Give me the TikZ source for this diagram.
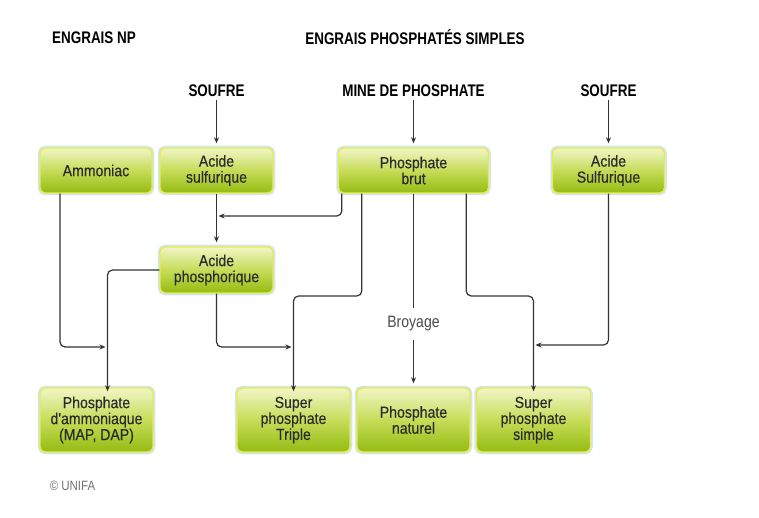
\documentclass[tikz,border=0pt]{standalone}
\usepackage{fontspec}
\setmainfont{Liberation Sans}[FakeStretch=0.85]
\newfontfamily\hfont{Liberation Sans}[FakeStretch=0.80]
\newfontfamily\bxfont{Liberation Sans}[FakeStretch=0.88, FakeBold=0.35]
\usetikzlibrary{arrows.meta}
\definecolor{boxtop}{HTML}{F0F6C6}
\definecolor{boxmid}{HTML}{C6DC58}
\definecolor{boxbot}{HTML}{94BC12}
\definecolor{boxline}{HTML}{EDEA48}
\definecolor{glow}{HTML}{CFE6F5}
\definecolor{ink}{HTML}{2B2B2B}
\definecolor{wire}{HTML}{333333}
\tikzset{
  fbox/.style={rounded corners=5pt, top color=boxtop, bottom color=boxbot, middle color=boxmid,
    draw=boxline, line width=1.4pt, preaction={draw=glow, line width=4.5pt},
    align=center, inner sep=0pt, text=ink, font=\bxfont\fontsize{16}{16}\selectfont},
  head/.style={font=\hfont\bfseries\fontsize{16.8}{16}\selectfont, text=black, inner sep=0pt},
  src/.style={font=\hfont\bfseries\fontsize{16.8}{16}\selectfont, text=black, inner sep=0pt, minimum height=18pt},
  wire/.style={draw=wire, line width=1.2pt, rounded corners=5pt},
  arr/.style={wire, -{Stealth[length=6pt,width=5pt]}},
  into/.style={arr, shorten >=4pt}
}
\begin{document}
\begin{tikzpicture}[x=1pt,y=-1pt]
\useasboundingbox (0,0) rectangle (759,518);
\fill[white] (0,0) rectangle (759,518);
% headings
\node[head, anchor=west] (h1) at (52,37.5) {ENGRAIS NP};
\node[head] (h2) at (415,37.5) {ENGRAIS PHOSPHATÉS SIMPLES};
\node[src] (s1) at (216.5,91) {SOUFRE};
\node[src] (mine) at (413.5,91) {MINE DE PHOSPHATE};
\node[src] (s2) at (608.5,91) {SOUFRE};
% boxes
\node[fbox, minimum width=112pt, minimum height=45pt] (amm) at (96,170.5) {Ammoniac};
\node[fbox, minimum width=113pt, minimum height=45pt] (as1) at (216.5,170.5) {Acide\\sulfurique};
\node[fbox, minimum width=150pt, minimum height=45pt] (pb) at (413.5,170.5) {Phosphate\\brut};
\node[fbox, minimum width=112pt, minimum height=45pt] (as2) at (608.5,170.5) {Acide\\Sulfurique};
\node[fbox, minimum width=113pt, minimum height=46pt] (ap) at (216.5,270) {Acide\\phosphorique};
\node[fbox, minimum width=113pt, minimum height=64pt] (pam) at (96.5,420) {Phosphate\\d'ammoniaque\\(MAP, DAP)};
\node[fbox, minimum width=113pt, minimum height=64pt] (spt) at (293.5,420) {Super\\phosphate\\Triple};
\node[fbox, minimum width=113pt, minimum height=64pt] (pn) at (413.5,420) {Phosphate\\naturel};
\node[fbox, minimum width=114pt, minimum height=64pt] (sps) at (533.5,420) {Super\\phosphate\\simple};
\node[inner sep=0pt, minimum height=32pt, text=ink!85, font=\fontsize{16.5}{16}\selectfont] (broy) at (413.5,324) {Broyage};
\node[inner sep=0pt, text=black!55, font=\fontsize{13.5}{13}\selectfont] (cp) at (72.5,486) {© UNIFA};
% junction coordinates
\coordinate (j1) at (216.5,216);
\coordinate (j2) at (293.5,296);
\coordinate (j3) at (533.5,296);
\coordinate (j4) at (533.5,345);
\coordinate (j5) at (107.5,347);
\coordinate (j6) at (293.5,347);
% connectors
\draw[into] (s1.south) -- (as1.north);
\draw[into] (mine.south) -- (pb.north);
\draw[into] (s2.south) -- (as2.north);
\draw[into] (as1.south) -- (ap.north);
\draw[arr] ([xshift=4pt]pb.south west) |- ([xshift=2pt]j1);
\draw[arr] ([xshift=24pt]pb.south west) |- (j2) -- ([yshift=-4pt]spt.north);
\draw[wire] (pb.south) -- (broy.north);
\draw[into] (broy.south) -- (pn.north);
\draw[arr] ([xshift=-23pt]pb.south east) |- (j3) -- ([yshift=-4pt]sps.north);
\draw[arr] (as2.south) |- ([xshift=2pt]j4);
\draw[arr] (ap.west) -| ([yshift=-4pt]pam.north -| j5);
\draw[arr] ([xshift=-36pt]amm.south) |- ([xshift=-2pt]j5);
\draw[arr] (ap.south) |- ([xshift=-2pt]j6);
\end{tikzpicture}
\end{document}
